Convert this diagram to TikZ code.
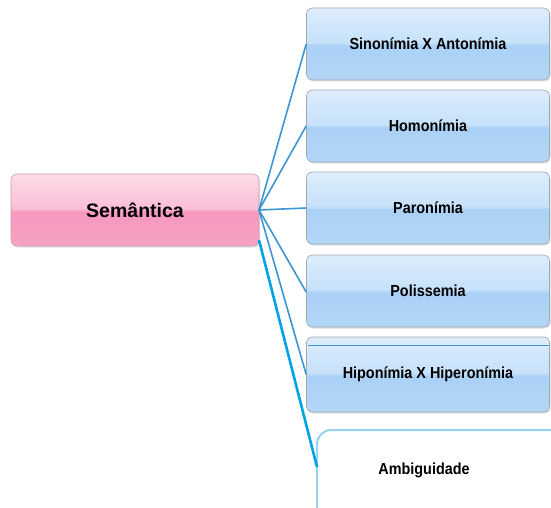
\documentclass[tikz,border=0pt]{standalone}
\usepackage{fontspec}
\setmainfont{Liberation Sans}
\usetikzlibrary{shadows}
\definecolor{btop}{RGB}{222,237,252}
\definecolor{bmidu}{RGB}{198,225,250}
\definecolor{bmidl}{RGB}{170,209,246}
\definecolor{bbot}{RGB}{178,214,247}
\definecolor{ptop}{RGB}{253,220,233}
\definecolor{pmidu}{RGB}{250,190,214}
\definecolor{pmidl}{RGB}{247,152,191}
\definecolor{pbot}{RGB}{245,162,196}
\definecolor{linkc}{RGB}{62,150,212}
\definecolor{linkb}{RGB}{0,162,232}
\definecolor{ambb}{RGB}{150,212,236}
\definecolor{edgeg}{RGB}{160,168,178}
\definecolor{edgep}{RGB}{200,160,180}
\pgfdeclareverticalshading{bluegloss}{100bp}{color(0bp)=(bbot); color(25bp)=(bbot); color(49bp)=(bmidl); color(51bp)=(bmidu); color(75bp)=(btop); color(100bp)=(btop)}
\pgfdeclareverticalshading{pinkgloss}{100bp}{color(0bp)=(pbot); color(25bp)=(pbot); color(49bp)=(pmidl); color(51bp)=(pmidu); color(75bp)=(ptop); color(100bp)=(ptop)}
\newcommand{\cond}[1]{\scalebox{0.9}[1]{#1}}
\tikzset{
  bluebox/.style={draw=edgeg, line width=0.6pt, rounded corners=6pt, shading=bluegloss,
    minimum width=243pt, minimum height=72pt, inner sep=0pt,
    font=\fontsize{16}{18}\selectfont\bfseries,
    drop shadow={shadow xshift=1pt, shadow yshift=-1.5pt, opacity=0.25}},
  pinkbox/.style={draw=edgep, line width=0.6pt, rounded corners=6pt, shading=pinkgloss,
    minimum width=248pt, minimum height=72pt, inner sep=0pt,
    font=\fontsize{19.5}{22}\selectfont\bfseries,
    drop shadow={shadow xshift=1pt, shadow yshift=-1.5pt, opacity=0.25}},
  plain/.style={font=\fontsize{16}{18}\selectfont\bfseries, inner sep=0pt},
  link/.style={draw=linkc, line width=1.6pt},
  linkbold/.style={draw=linkb, line width=2.6pt}
}
\begin{document}
\begin{tikzpicture}[x=1pt,y=-1pt]
\useasboundingbox (0,0) rectangle (551,508);
\fill[white] (0,0) rectangle (551,508);
\node[pinkbox] (sem) at (135,210) {Semântica};
\node[bluebox] (b1) at (428,44) {\cond{Sinonímia X Antonímia}};
\node[bluebox] (b2) at (428,126) {\cond{Homonímia}};
\node[bluebox] (b3) at (428,208) {\cond{Paronímia}};
\node[bluebox] (b4) at (428,291) {\cond{Polissemia}};
\node[bluebox, minimum height=75pt] (b5) at (428,374.5) {\cond{Hiponímia X Hiperonímia}};
\draw[linkc, line width=1pt] ([xshift=2pt,yshift=-9pt]b5.north west) -- ([xshift=-1pt,yshift=-9pt]b5.north east);
\draw[ambb, line width=2pt, rounded corners=14pt] (560,430) -- (317,430) -- (317,520);
\node[plain] (amb) at (424,470) {\cond{Ambiguidade}};
\coordinate (ambw) at (317,467);
\coordinate (semc) at (259,210);
\coordinate (semb) at (259,240);
\draw[link] (semc) -- (b1.west);
\draw[link] (semc) -- (b2.west);
\draw[link] (semc) -- (b3.west);
\draw[link] (semc) -- ([yshift=-1pt]b4.west);
\draw[link] (semc) -- (b5.west);
\draw[linkbold] (semb) -- (ambw);
\end{tikzpicture}
\end{document}
